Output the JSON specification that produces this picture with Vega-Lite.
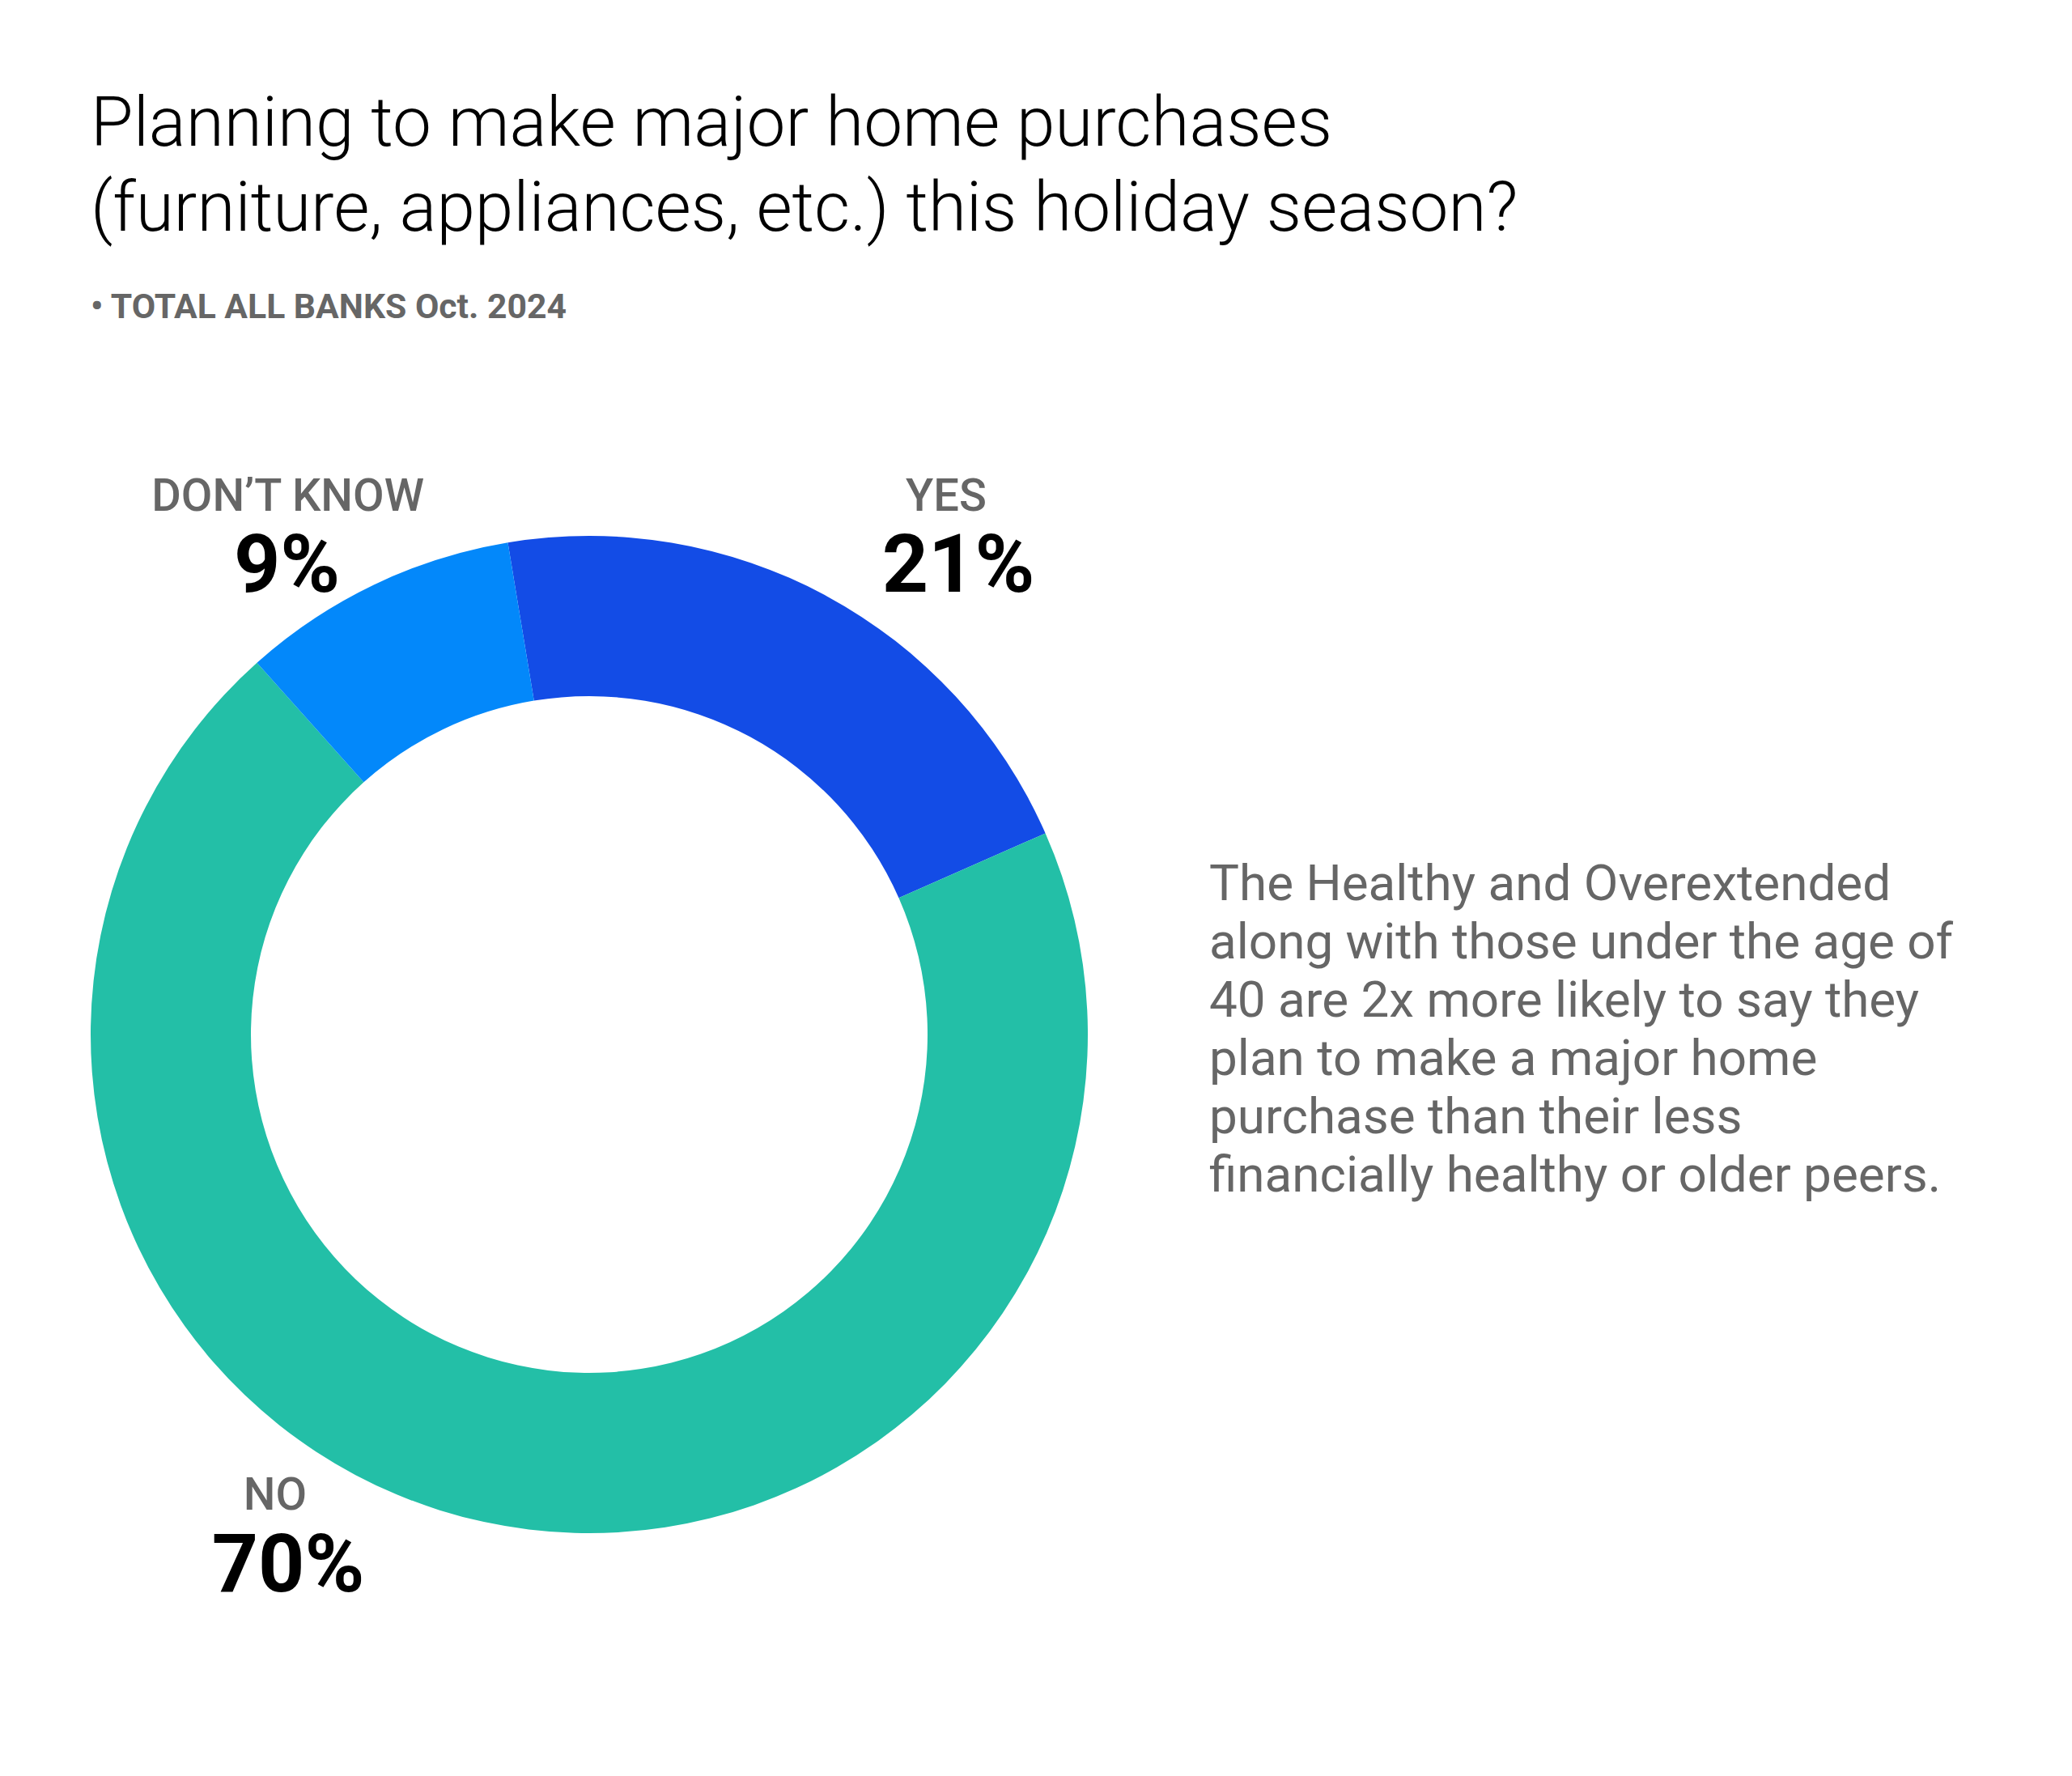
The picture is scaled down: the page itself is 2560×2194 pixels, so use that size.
{
  "$schema": "https://vega.github.io/schema/vega-lite/v6.json",
  "background": "white",
  "padding": {"left": 112, "top": 112, "right": 20, "bottom": 20},
  "config": {"view": {"stroke": null}, "font": "Roboto"},
  "title": {
    "text": ["Planning to make major home purchases", "(furniture, appliances, etc.) this holiday season?"],
    "subtitle": "• TOTAL ALL BANKS Oct. 2024",
    "anchor": "start",
    "font": "Roboto",
    "fontSize": 85.5,
    "fontWeight": 300,
    "lineHeight": 105,
    "color": "#000000",
    "subtitleFont": "Roboto",
    "subtitleFontSize": 42.7,
    "subtitleFontWeight": "bold",
    "subtitleColor": "#666666",
    "subtitlePadding": 56,
    "offset": 103
  },
  "datasets": {
    "answers": [
      {"answer": "YES", "value": 21, "order": 1},
      {"answer": "NO", "value": 70, "order": 2},
      {"answer": "DON’T KNOW", "value": 9, "order": 3}
    ],
    "note": [
      {"line": 1, "text": "The Healthy and Overextended"},
      {"line": 2, "text": "along with those under the age of"},
      {"line": 3, "text": "40 are 2x more likely to say they"},
      {"line": 4, "text": "plan to make a major home"},
      {"line": 5, "text": "purchase than their less"},
      {"line": 6, "text": "financially healthy or older peers."}
    ]
  },
  "bounds": "flush",
  "center": true,
  "spacing": 150,
  "hconcat": [
    {
      "data": {"name": "answers"},
      "width": 1232,
      "height": 1232,
      "transform": [{"calculate": "datum.value + '%'", "as": "pct"}],
      "encoding": {
        "theta": {
          "field": "value",
          "type": "quantitative",
          "stack": true,
          "scale": {"domain": [0, 100], "range": [-0.164, 6.1192]}
        },
        "order": {"field": "order", "type": "quantitative"},
        "detail": {"field": "answer", "type": "nominal"}
      },
      "layer": [
        {
          "mark": {"type": "arc", "outerRadius": 616, "innerRadius": 418},
          "encoding": {
            "color": {
              "field": "answer",
              "type": "nominal",
              "scale": {"domain": ["YES", "NO", "DON’T KNOW"], "range": ["#134CE6", "#23BFA7", "#0388FA"]},
              "legend": null
            }
          }
        },
        {
          "mark": {"type": "text", "radius": 700, "dx": 108, "dy": -31, "align": "center", "baseline": "alphabetic", "fontSize": 56, "fontWeight": 500, "color": "#666666"},
          "encoding": {"text": {"condition": {"test": "datum.answer === 'YES'", "field": "answer"}, "value": ""}}
        },
        {
          "mark": {"type": "text", "radius": 700, "dx": 123, "dy": 69, "align": "center", "baseline": "alphabetic", "fontSize": 100, "fontWeight": "bold", "color": "#000000"},
          "encoding": {"text": {"condition": {"test": "datum.answer === 'YES'", "field": "pct"}, "value": ""}}
        },
        {
          "mark": {"type": "text", "radius": 700, "dx": -240, "dy": -97, "align": "center", "baseline": "alphabetic", "fontSize": 56, "fontWeight": 500, "color": "#666666"},
          "encoding": {"text": {"condition": {"test": "datum.answer === 'NO'", "field": "answer"}, "value": ""}}
        },
        {
          "mark": {"type": "text", "radius": 700, "dx": -224, "dy": 4, "align": "center", "baseline": "alphabetic", "fontSize": 100, "fontWeight": "bold", "color": "#000000"},
          "encoding": {"text": {"condition": {"test": "datum.answer === 'NO'", "field": "pct"}, "value": ""}}
        },
        {
          "mark": {"type": "text", "radius": 700, "dx": -70, "dy": -16, "align": "center", "baseline": "alphabetic", "fontSize": 56, "fontWeight": 500, "color": "#666666"},
          "encoding": {"text": {"condition": {"test": "datum.answer === 'DON’T KNOW'", "field": "answer"}, "value": ""}}
        },
        {
          "mark": {"type": "text", "radius": 700, "dx": -71, "dy": 84, "align": "center", "baseline": "alphabetic", "fontSize": 100, "fontWeight": "bold", "color": "#000000"},
          "encoding": {"text": {"condition": {"test": "datum.answer === 'DON’T KNOW'", "field": "pct"}, "value": ""}}
        }
      ]
    },
    {
      "data": {"name": "note"},
      "width": 950,
      "height": {"step": 72},
      "mark": {"type": "text", "align": "left", "baseline": "alphabetic", "dy": 14, "fontSize": 62, "color": "#666666", "font": "Roboto"},
      "encoding": {
        "y": {"field": "line", "type": "ordinal", "axis": null},
        "x": {"datum": 0, "type": "quantitative", "scale": {"domain": [0, 1]}, "axis": null},
        "text": {"field": "text"}
      }
    }
  ]
}
